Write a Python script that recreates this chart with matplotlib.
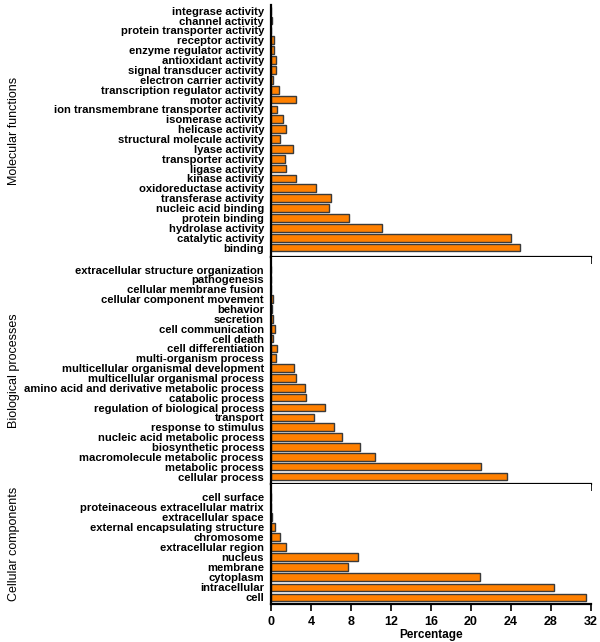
import matplotlib
matplotlib.use('Agg')
import matplotlib.pyplot as plt

plt.rcParams['font.family'] = ['Liberation Sans', 'DejaVu Sans']

# Molecular functions (top to bottom as drawn)
mf_terms = ['integrase activity', 'channel activity', 'protein transporter activity',
            'receptor activity', 'enzyme regulator activity', 'antioxidant activity',
            'signal transducer activity', 'electron carrier activity',
            'transcription regulator activity', 'motor activity',
            'ion transmembrane transporter activity', 'isomerase activity',
            'helicase activity', 'structural molecule activity', 'lyase activity',
            'transporter activity', 'ligase activity', 'kinase activity',
            'oxidoreductase activity', 'transferase activity', 'nucleic acid binding',
            'protein binding', 'hydrolase activity', 'catalytic activity', 'binding']
mf_vals = [0.0, 0.1, 0.0, 0.3, 0.3, 0.5, 0.45, 0.15, 0.75, 2.45, 0.55, 1.15,
           1.45, 0.9, 2.15, 1.4, 1.5, 2.5, 4.45, 5.95, 5.75, 7.8, 11.05, 24.0, 24.9]

# Biological processes
bp_terms = ['extracellular structure organization', 'pathogenesis',
            'cellular membrane fusion', 'cellular component movement', 'behavior',
            'secretion', 'cell communication', 'cell death', 'cell differentiation',
            'multi-organism process', 'multicellular organismal development',
            'multicellular organismal process',
            'amino acid and derivative metabolic process', 'catabolic process',
            'regulation of biological process', 'transport', 'response to stimulus',
            'nucleic acid metabolic process', 'biosynthetic process',
            'macromolecule metabolic process', 'metabolic process', 'cellular process']
bp_vals = [0.0, 0.0, 0.02, 0.2, 0.05, 0.15, 0.35, 0.2, 0.55, 0.5, 2.25, 2.5,
           3.4, 3.45, 5.35, 4.25, 6.25, 7.05, 8.85, 10.4, 21.0, 23.6]

# Cellular components
cc_terms = ['cell surface', 'proteinaceous extracellular matrix', 'extracellular space',
            'external encapsulating structure', 'chromosome', 'extracellular region',
            'nucleus', 'membrane', 'cytoplasm', 'intracellular', 'cell']
cc_vals = [0.0, 0.0, 0.05, 0.35, 0.85, 1.45, 8.65, 7.65, 20.85, 28.3, 31.45]

xticks = [0, 4, 8, 12, 16, 20, 24, 28, 32]

fig = plt.figure(figsize=(6, 6.42), dpi=100)

# panel boxes in pixels: (top, bottom) and y padding below/above bars
panels = [
    (mf_terms, mf_vals, 'Molecular functions', 5, 257, 0.96, 0.58),
    (bp_terms, bp_vals, 'Biological processes', 257, 484, 0.76, 1.27),
    (cc_terms, cc_vals, 'Cellular components', 484, 604, 0.65, 1.3),
]

H = 642.0
for i, (terms, vals, name, top, bot, padlo, padhi) in enumerate(panels):
    ax = fig.add_axes([271 / 600, (H - bot) / H, 320 / 600, (bot - top) / H])
    n = len(terms)
    # reverse so the first term is at the top
    pos = list(range(n))[::-1]
    ax.barh(pos, vals, height=0.78, color='#FF8000', edgecolor='#3a3a3a', linewidth=1.0)
    ax.set_yticks(pos)
    ax.set_yticklabels(terms, fontsize=8.1, fontweight='bold')
    ax.set_ylim(-padlo, n - 1 + padhi)
    ax.set_xlim(0, 32)
    ax.set_xticks(xticks)
    ax.tick_params(axis='y', length=0, pad=5)
    ax.tick_params(axis='x', direction='out', length=5, width=1.2, color='black')
    for s in ['top', 'right']:
        ax.spines[s].set_visible(False)
    ax.spines['left'].set_linewidth(1.6)
    ax.spines['bottom'].set_linewidth(1.6)
    ax.set_ylabel(name, fontsize=9)
    ax.yaxis.set_label_coords(-0.785, 0.5)
    if i < 2:
        ax.set_xticklabels([])
    else:
        ax.set_xticklabels([str(t) for t in xticks], fontsize=9, fontweight='bold')
        ax.set_xlabel('Percentage', fontsize=8.5, fontweight='bold', labelpad=1)

fig.savefig('out.png', dpi=100)
